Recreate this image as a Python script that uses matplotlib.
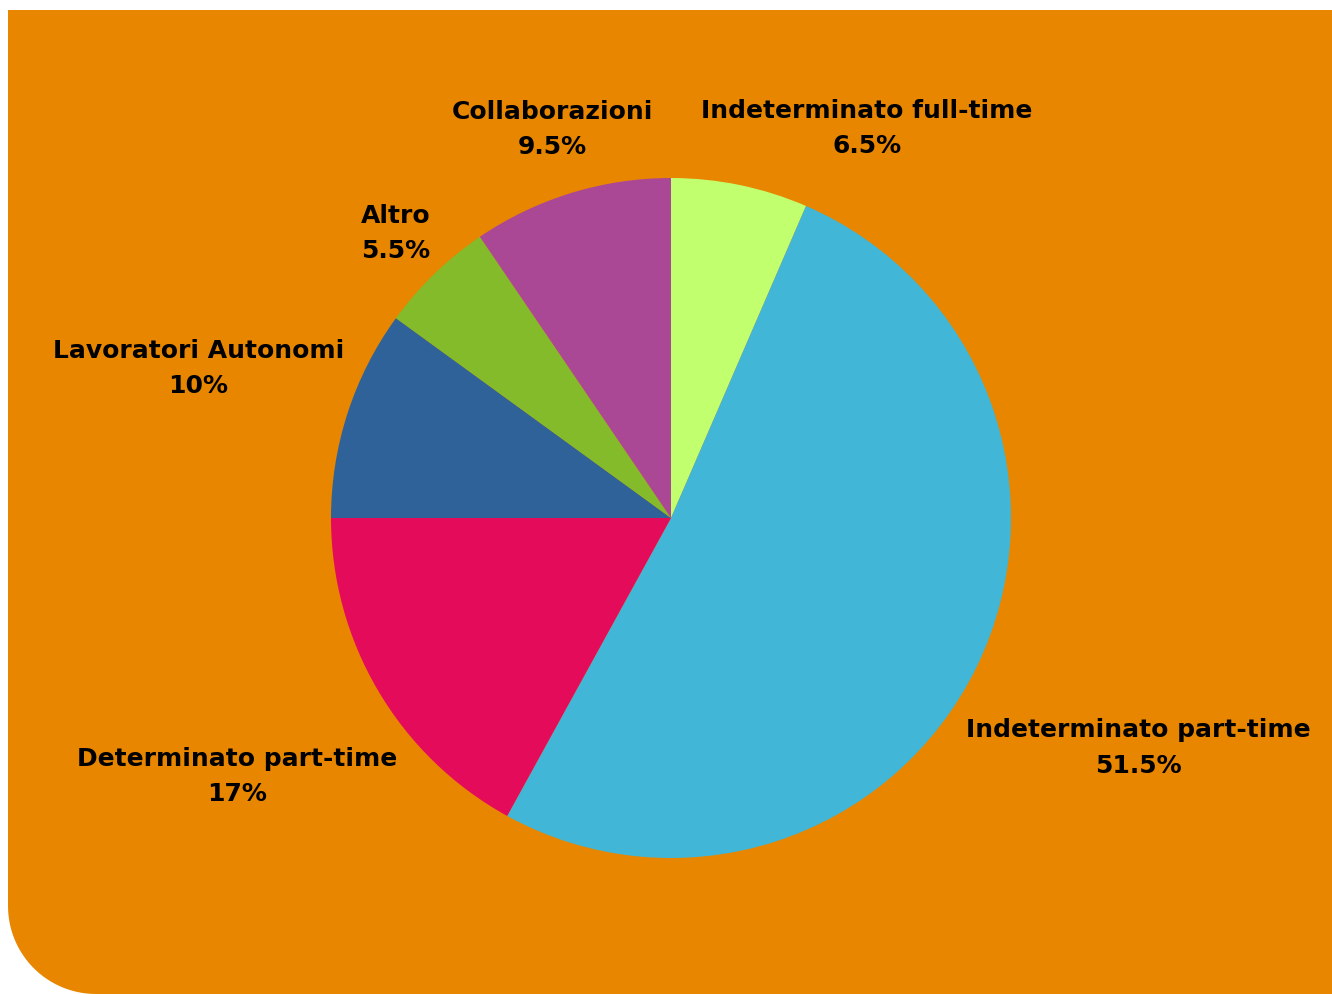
import numpy as np
import matplotlib
matplotlib.use("Agg")
import matplotlib.pyplot as plt
from matplotlib.path import Path
from matplotlib.patches import PathPatch

# data
categories = ["Indeterminato full-time", "Indeterminato part-time", "Determinato part-time",
              "Lavoratori Autonomi", "Altro", "Collaborazioni"]
shares = [6.5, 51.5, 17, 10, 5.5, 9.5]
share_labels = ["6.5%", "51.5%", "17%", "10%", "5.5%", "9.5%"]
colors = ["#C1FF6F", "#42B6D6", "#E50B5B", "#2E6299", "#84BB2B", "#AA4896"]
# label centres, in units of the pie radius
label_pos = [(0.576, 1.145), (1.375, -0.676), (-1.276, -0.76),
             (-1.39, 0.44), (-0.809, 0.836), (-0.35, 1.142)]

W, H = 1332, 994
fig = plt.figure(figsize=(W / 100, H / 100), dpi=100)
fig.patch.set_facecolor("white")

# orange panel with rounded bottom-left corner (pixel coords)
left, top, r = 8, H - 10, 88
theta = np.linspace(np.pi, 1.5 * np.pi, 30)
arc = [(left + r + r * np.cos(t), r + r * np.sin(t)) for t in theta]
verts = [(left, top), (left, r)] + arc + [(W, 0), (W, top), (left, top)]
panel = PathPatch(Path([(x / W, y / H) for x, y in verts]), transform=fig.transFigure,
                  facecolor="#E88600", edgecolor="none", zorder=-5)
fig.patches.append(panel)

cx, cy, rad = 671, H - 518, 340
ax = fig.add_axes([(cx - rad) / W, (cy - rad) / H, 2 * rad / W, 2 * rad / H])
ax.set_zorder(2)
ax.set_axis_off()
ax.patch.set_alpha(0)

ax.pie(shares, colors=colors, startangle=90, counterclock=False, radius=1,
       wedgeprops=dict(linewidth=0))
ax.set_xlim(-1, 1)
ax.set_ylim(-1, 1)

for name, pct, (x, y) in zip(categories, share_labels, label_pos):
    ax.text(x, y, name + "\n" + pct, ha="center", va="center", fontsize=18,
            fontweight="bold", family="DejaVu Sans", color="black", linespacing=1.6,
            clip_on=False)

fig.savefig("out.png", dpi=100, facecolor="white")
